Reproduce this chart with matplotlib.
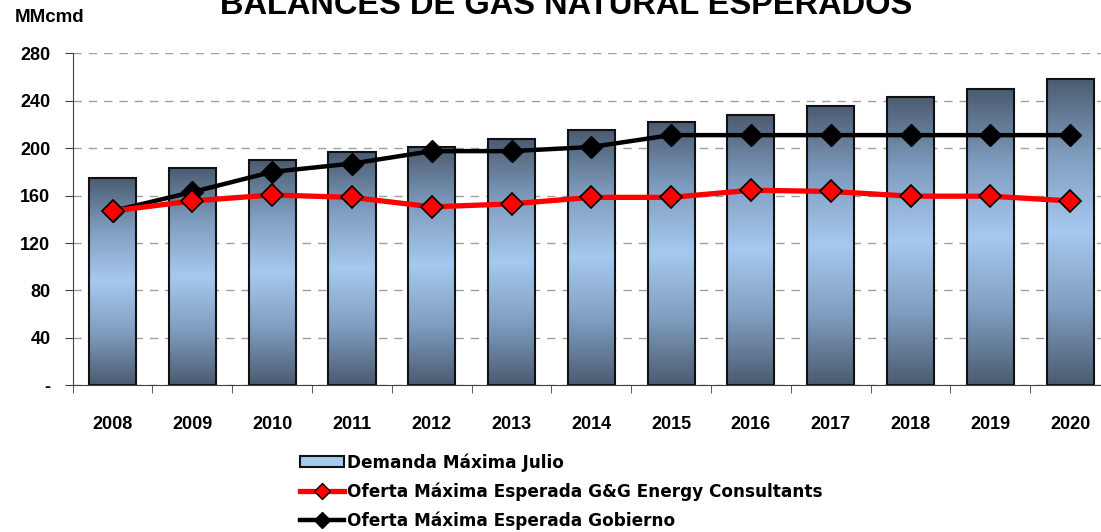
import numpy as np
import matplotlib
matplotlib.use('Agg')
import matplotlib.pyplot as plt
from matplotlib.colors import LinearSegmentedColormap
from matplotlib.patches import Rectangle
from matplotlib.lines import Line2D

plt.rcParams['font.family'] = ['Liberation Sans', 'DejaVu Sans']
plt.rcParams['font.weight'] = 'bold'

# datos (MMcmd)
anios = ['2008', '2009', '2010', '2011', '2012', '2013', '2014',
         '2015', '2016', '2017', '2018', '2019', '2020']
demanda = [175, 183.5, 190, 196.5, 201, 208, 215, 222, 228, 235.5, 243, 249.5, 258.5]
oferta_gg = [147, 155.5, 160.5, 158.5, 150.5, 153, 158.5, 158.5, 164.5, 163.5, 159.5, 159.5, 155.5]
oferta_gob = [147, 163, 180, 187, 197.5, 197.5, 201, 211, 211, 211, 211, 211, 211]
yticks = [0, 40, 80, 120, 160, 200, 240, 280]
ylabels = ['-', '40', '80', '120', '160', '200', '240', '280']

fig = plt.figure(figsize=(11.01, 5.32), dpi=100)
ax = fig.add_axes([72.7 / 1101, 1 - 385.3 / 532, (1110 - 72.7) / 1101, 332 / 532])

x = np.arange(len(anios))
ancho = 0.59

# barras con degradado
cmap = LinearSegmentedColormap.from_list('barra', ['#4b5b70', '#7f9dbf', '#a7c9ef', '#7f9dbf', '#4b5b70'])
grad = np.linspace(0, 1, 256).reshape(-1, 1)
barras = ax.bar(x, demanda, width=ancho, facecolor='none', edgecolor='#111111',
                linewidth=1.5, zorder=3)
for b in barras:
    x0, y0 = b.get_x(), b.get_y()
    im = ax.imshow(grad, extent=[x0, x0 + b.get_width(), y0, y0 + b.get_height()],
                   aspect='auto', cmap=cmap, origin='lower', zorder=2)
    im.set_clip_path(b)

ax.plot(x, oferta_gob, color='black', lw=3.2, marker='D', markersize=11,
        markerfacecolor='black', markeredgecolor='black', zorder=4)
ax.plot(x, oferta_gg, color='#ff0000', lw=3.8, marker='D', markersize=11,
        markerfacecolor='#ff0000', markeredgecolor='black', markeredgewidth=1.2, zorder=5)

ax.set_xlim(-0.5, len(anios) - 0.5)
ax.set_ylim(0, 280)
ax.set_yticks(yticks)
ax.set_yticklabels(ylabels)
ax.set_xticks(x)
ax.set_xticklabels(anios)
ax.set_xticks(np.arange(len(anios) + 1) - 0.5, minor=True)
ax.tick_params(axis='x', which='major', length=0, pad=22, labelsize=13)
ax.tick_params(axis='x', which='minor', length=6, direction='out', color='#404040')
ax.tick_params(axis='y', length=6, direction='out', color='#404040', pad=10, labelsize=13)

ax.set_axisbelow(True)
ax.yaxis.grid(True, linestyle=(0, (6, 5)), color='#a0a0a0', linewidth=1)
for s in ['top', 'right']:
    ax.spines[s].set_visible(False)
for s in ['left', 'bottom']:
    ax.spines[s].set_color('#404040')
    ax.spines[s].set_zorder(6)

fig.text(15 / 1101, 1 - 17 / 532, 'MMcmd', fontsize=13.5, fontweight='bold', va='center', ha='left')
fig.text(566 / 1101, 1 - 14 / 532, 'BALANCES DE GAS NATURAL ESPERADOS', fontsize=23.5,
         fontweight='bold', ha='center', va='baseline')

handles = [
    Rectangle((0, 0), 1, 1, facecolor='#a7c9ef', edgecolor='#111111', linewidth=1.5),
    Line2D([], [], color='#ff0000', lw=3.8, marker='D', markersize=8,
           markerfacecolor='#ff0000', markeredgecolor='black'),
    Line2D([], [], color='black', lw=3.2, marker='D', markersize=8, markerfacecolor='black'),
]
etiquetas = ['Demanda Máxima Julio',
             'Oferta Máxima Esperada G&G Energy Consultants',
             'Oferta Máxima Esperada Gobierno']
fig.legend(handles, etiquetas, loc='upper left', bbox_to_anchor=(300 / 1101, 1 - 453 / 532),
           frameon=False, handlelength=2.6, handleheight=0.55,
           handletextpad=0.2, labelspacing=0.63, borderaxespad=0, borderpad=0,
           prop={'family': 'DejaVu Sans', 'weight': 'bold', 'size': 12.2})

fig.savefig('out.png', dpi=100)
